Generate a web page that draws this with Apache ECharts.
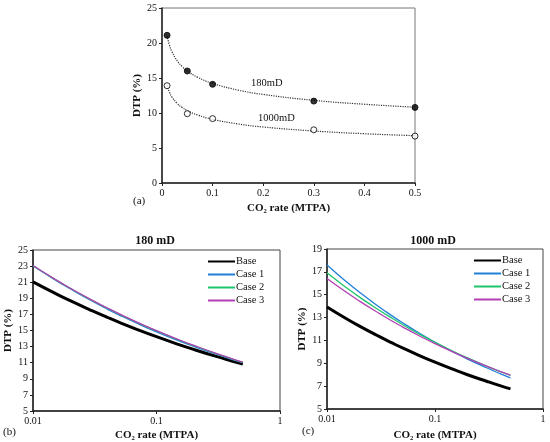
<!DOCTYPE html>
<html>
<head>
<meta charset="utf-8">
<script src="https://cdn.jsdelivr.net/npm/echarts@6/dist/echarts.min.js"></script>
<style>html,body{margin:0;padding:0;background:#fff}#c{width:550px;height:442px}</style>
</head>
<body>
<div id="c"></div>
<script>
// ---- Data ----
var pointRates = [0.01, 0.05, 0.1, 0.3, 0.5];
var points180 = [21.1, 16.0, 14.1, 11.7, 10.8];
var points1000 = [13.9, 9.9, 9.2, 7.6, 6.7];

var rates = [0.01, 0.015, 0.02, 0.03, 0.04, 0.05, 0.07, 0.1, 0.15, 0.2, 0.3, 0.4, 0.5];
var base180   = [21.04, 19.64, 18.70, 17.46, 16.63, 16.01, 15.12, 14.23, 13.28, 12.65, 11.81, 11.25, 10.83];
var case1_180 = [23.04, 21.32, 20.18, 18.66, 17.66, 16.92, 15.87, 14.83, 13.74, 13.03, 12.08, 11.45, 11.00];
var case2_180 = [23.04, 21.35, 20.23, 18.74, 17.76, 17.03, 15.99, 14.95, 13.85, 13.13, 12.16, 11.52, 11.05];
var case3_180 = [23.07, 21.38, 20.26, 18.77, 17.79, 17.06, 16.02, 14.98, 13.88, 13.16, 12.19, 11.55, 11.08];

var base1000   = [13.93, 12.92, 12.25, 11.37, 10.78, 10.34, 9.72, 9.10, 8.44, 8.00, 7.43, 7.04, 6.76];
var case1_1000 = [17.60, 16.16, 15.21, 13.97, 13.15, 12.55, 11.69, 10.84, 9.96, 9.37, 8.61, 8.10, 7.73];
var case2_1000 = [16.92, 15.64, 14.79, 13.68, 12.94, 12.39, 11.61, 10.83, 10.01, 9.47, 8.76, 8.28, 7.93];
var case3_1000 = [16.42, 15.23, 14.44, 13.40, 12.70, 12.19, 11.45, 10.72, 9.95, 9.43, 8.75, 8.30, 7.96];

var legendNames = ['Base', 'Case 1', 'Case 2', 'Case 3'];
var colors = ['#000000', '#1f7fd6', '#1fc46a', '#b23fb4'];

function pairs(xs, ys) { return xs.map(function (x, i) { return [x, ys[i]]; }); }

var FONT = 'Liberation Serif';
var txt = { fontFamily: FONT, color: '#111', fontSize: 10 };

function axisCommon(pad) {
  return {
    axisLine: { show: true, lineStyle: { color: '#222', width: 1.5 } },
    axisTick: { show: true, length: 3, lineStyle: { color: '#222' } },
    splitLine: { show: false },
    axisLabel: Object.assign({ margin: 5 }, txt),
    nameTextStyle: { fontFamily: FONT, color: '#111', fontSize: 11, fontWeight: 'bold', padding: pad || 0 }
  };
}

var chart = echarts.init(document.getElementById('c'), null, { renderer: 'canvas' });

var series = [];
// panel (a)
series.push({ type: 'line', xAxisIndex: 0, yAxisIndex: 0, data: pairs(rates, base180), smooth: true, symbol: 'none',
  lineStyle: { color: '#333', width: 1.2, type: 'dotted' }, silent: true, z: 2 });
series.push({ type: 'line', xAxisIndex: 0, yAxisIndex: 0, data: pairs(rates, base1000), smooth: true, symbol: 'none',
  lineStyle: { color: '#333', width: 1.2, type: 'dotted' }, silent: true, z: 2 });
series.push({ type: 'scatter', xAxisIndex: 0, yAxisIndex: 0, data: pairs(pointRates, points180), symbolSize: 6,
  itemStyle: { color: '#000', borderColor: '#000', borderWidth: 1 }, z: 5 });
series.push({ type: 'scatter', xAxisIndex: 0, yAxisIndex: 0, data: pairs(pointRates, points1000), symbolSize: 6,
  itemStyle: { color: '#fff', borderColor: '#000', borderWidth: 1 }, z: 5 });

var data180 = [base180, case1_180, case2_180, case3_180];
var data1000 = [base1000, case1_1000, case2_1000, case3_1000];
[1, 2].forEach(function (p) {
  var arr = p === 1 ? data180 : data1000;
  arr.forEach(function (d, i) {
    series.push({
      name: legendNames[i], type: 'line', xAxisIndex: p, yAxisIndex: p,
      data: pairs(rates, d), smooth: true, symbol: 'none', showSymbol: false,
      lineStyle: { color: colors[i], width: i === 0 ? 3 : 1.3 },
      itemStyle: { color: colors[i] },
      z: 3 + i
    });
  });
});

var legendCommon = {
  orient: 'vertical', itemWidth: 27, itemHeight: 10, itemGap: 2, selectedMode: false,
  data: legendNames,
  itemStyle: { color: 'rgba(0,0,0,0)', borderColor: 'rgba(0,0,0,0)', borderWidth: 0, opacity: 0 },
  textStyle: { fontFamily: FONT, fontSize: 10.5, color: '#111', padding: [0, 0, 0, -4] }, padding: 0
};

var option = {
  animation: false,
  backgroundColor: '#fff',
  textStyle: { fontFamily: FONT },
  title: [
    { text: '180 mD', left: 150, top: 230, textAlign: 'center', textStyle: { fontFamily: FONT, fontSize: 12, fontWeight: 'bold', color: '#111' } },
    { text: '1000 mD', left: 428, top: 230, textAlign: 'center', textStyle: { fontFamily: FONT, fontSize: 12, fontWeight: 'bold', color: '#111' } }
  ],
  legend: [
    Object.assign({ left: 207, top: 256 }, legendCommon),
    Object.assign({ left: 473, top: 255 }, legendCommon)
  ],
  grid: [
    { left: 162, top: 8, width: 253, height: 175, show: true, borderColor: '#777', borderWidth: 1, backgroundColor: 'transparent' },
    { left: 33, top: 250, width: 247, height: 162, show: true, borderColor: '#444', borderWidth: 1, backgroundColor: 'transparent' },
    { left: 327, top: 249, width: 216, height: 161, show: true, borderColor: '#444', borderWidth: 1, backgroundColor: 'transparent' }
  ],
  xAxis: [
    Object.assign(axisCommon(), { type: 'value', gridIndex: 0, min: 0, max: 0.5, interval: 0.1,
      name: 'CO\u2082 rate (MTPA)', nameLocation: 'middle', nameGap: 20 }),
    Object.assign(axisCommon(), { type: 'log', logBase: 10, gridIndex: 1, min: 0.01, max: 1,
      name: 'CO\u2082 rate (MTPA)', nameLocation: 'middle', nameGap: 19, minorTick: { show: false } }),
    Object.assign(axisCommon(), { type: 'log', logBase: 10, gridIndex: 2, min: 0.01, max: 1,
      name: 'CO\u2082 rate (MTPA)', nameLocation: 'middle', nameGap: 21, minorTick: { show: false } })
  ],
  yAxis: [
    Object.assign(axisCommon(), { type: 'value', gridIndex: 0, min: 0, max: 25, interval: 5,
      name: 'DTP (%)', nameLocation: 'middle', nameGap: 19 }),
    Object.assign(axisCommon(), { type: 'value', gridIndex: 1, min: 5, max: 25, interval: 2,
      name: 'DTP (%)', nameLocation: 'middle', nameGap: 19 }),
    Object.assign(axisCommon(), { type: 'value', gridIndex: 2, min: 5, max: 19, interval: 2,
      name: 'DTP (%)', nameLocation: 'middle', nameGap: 18 })
  ],
  graphic: [
    { type: 'text', left: 133, top: 196, style: { text: '(a)', font: '11px "Liberation Serif"', fill: '#111' } },
    { type: 'text', left: 3, top: 427, style: { text: '(b)', font: '11px "Liberation Serif"', fill: '#111' } },
    { type: 'text', left: 302, top: 426, style: { text: '(c)', font: '11px "Liberation Serif"', fill: '#111' } },
    { type: 'text', left: 251, top: 78, style: { text: '180mD', font: '10.5px "Liberation Serif"', fill: '#111' } },
    { type: 'text', left: 258, top: 113, style: { text: '1000mD', font: '10.5px "Liberation Serif"', fill: '#111' } }
  ],
  series: series
};
chart.setOption(option);
</script>
</body>
</html>
